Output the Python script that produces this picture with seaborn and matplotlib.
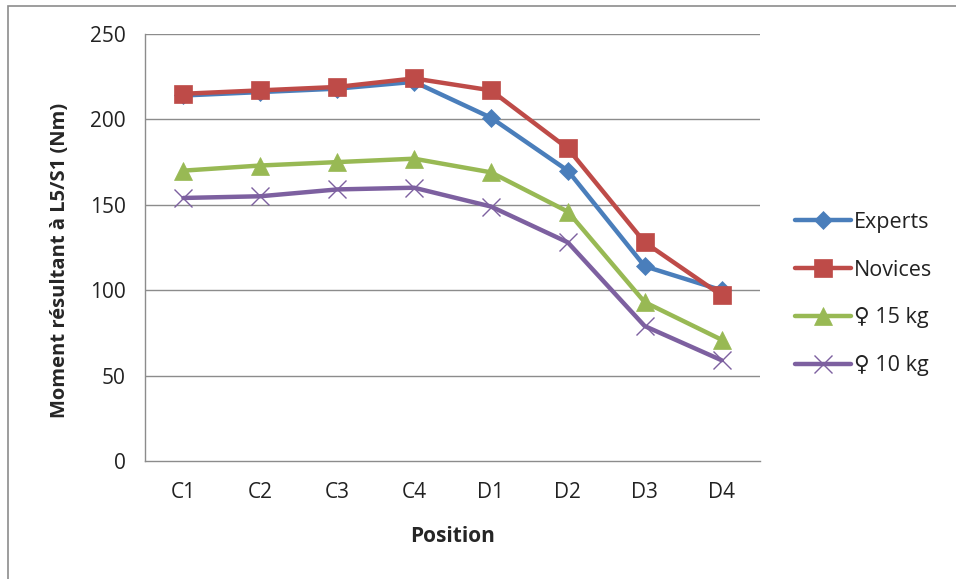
import matplotlib
matplotlib.use("Agg")
import matplotlib.pyplot as plt
import seaborn as sns
import pandas as pd
from matplotlib.patches import Rectangle

# Positions along the lifting task
positions = ["C1", "C2", "C3", "C4", "D1", "D2", "D3", "D4"]

# Resultant moment at L5/S1 (Nm) for each group
experts = [214, 216, 218, 222, 201, 170, 114, 100]
novices = [215, 217, 219, 224, 217, 183, 128, 97]
femmes_15kg = [170, 173, 175, 177, 169, 146, 93, 71]
femmes_10kg = [154, 155, 159, 160, 149, 128, 79, 59]

series_names = ["Experts", "Novices", "\u2640 15 kg", "\u2640 10 kg"]
series_values = [experts, novices, femmes_15kg, femmes_10kg]

rows = []
for name, vals in zip(series_names, series_values):
    for i, (p, v) in enumerate(zip(positions, vals)):
        rows.append({"idx": i, "Position": p, "Groupe": name, "Moment": v})
df = pd.DataFrame(rows)

sns.set_theme(style="white")
plt.rcParams["font.family"] = ["Open Sans", "DejaVu Sans"]

W, H = 956, 579
fig = plt.figure(figsize=(W / 100, H / 100), dpi=100)
ax_l, ax_r, ax_t, ax_b = 145, 760, 34, 461
ax = fig.add_axes([ax_l / W, 1 - ax_b / H, (ax_r - ax_l) / W, (ax_b - ax_t) / H])

palette = {
    "Experts": "#4A7EBB",
    "Novices": "#BE4B48",
    "\u2640 15 kg": "#98B954",
    "\u2640 10 kg": "#7D60A0",
}
markers = {"Experts": "D", "Novices": "s", "\u2640 15 kg": "^", "\u2640 10 kg": "x"}
sizes_m = {"Experts": 9, "Novices": 13, "\u2640 15 kg": 13, "\u2640 10 kg": 13}

for name in series_names:
    sub = df[df["Groupe"] == name]
    mk = markers[name]
    sns.lineplot(
        data=sub, x="idx", y="Moment", ax=ax, color=palette[name],
        linewidth=3.2, marker=mk, markersize=sizes_m[name],
        markeredgewidth=1.0 if mk == "x" else 0.5,
        markeredgecolor=palette[name], label=name, zorder=3,
    )

ax.set_xlim(-0.5, 7.5)
ax.set_ylim(0, 250)
ax.set_yticks(range(0, 251, 50))
ax.set_xticks(range(len(positions)))
ax.set_xticklabels(positions)

grid_c = "#8C8C8C"
for y in range(50, 251, 50):
    ax.axhline(y, color=grid_c, linewidth=1.0, zorder=1)

for s in ["top", "right"]:
    ax.spines[s].set_visible(False)
for s in ["left", "bottom"]:
    ax.spines[s].set_color(grid_c)
    ax.spines[s].set_linewidth(1.0)

# category boundary ticks on the x axis
ax.set_xticks([i + 0.5 for i in range(-1, 8)], minor=True)
ax.tick_params(axis="x", which="major", length=0, pad=15, labelsize=15, labelcolor="#222222")
ax.tick_params(axis="x", which="minor", length=5, width=1, color=grid_c, direction="out")
ax.tick_params(axis="y", length=5, width=1, color=grid_c, direction="out", pad=9,
               labelsize=15, labelcolor="#222222")

ax.set_xlabel("Position", fontsize=15, fontweight="bold", va="center")
ax.xaxis.set_label_coords(0.5, (ax_b - 536) / (ax_b - ax_t))
ax.set_ylabel("Moment résultant à L5/S1 (Nm)", fontsize=14.5, fontweight="bold", va="center")
ax.yaxis.set_label_coords((60 - ax_l) / (ax_r - ax_l), (ax_b - 260) / (ax_b - ax_t))

handles, labels = ax.get_legend_handles_labels()
leg = ax.legend(handles, labels, loc="center left", bbox_to_anchor=(795 / W, 1 - 294 / H),
                bbox_transform=fig.transFigure, frameon=False, fontsize=15.5,
                handlelength=2.6, handletextpad=0.15, labelspacing=1.24, borderaxespad=0,
                borderpad=0)
for t in leg.get_texts():
    t.set_color("#222222")

# outer chart border
fig.patches.append(Rectangle((8 / W, -0.05), 1.2, 1 - 6 / H + 0.05,
                             transform=fig.transFigure, fill=False,
                             edgecolor="#8C8C8C", linewidth=1.2))

fig.savefig("out.png", dpi=100)
